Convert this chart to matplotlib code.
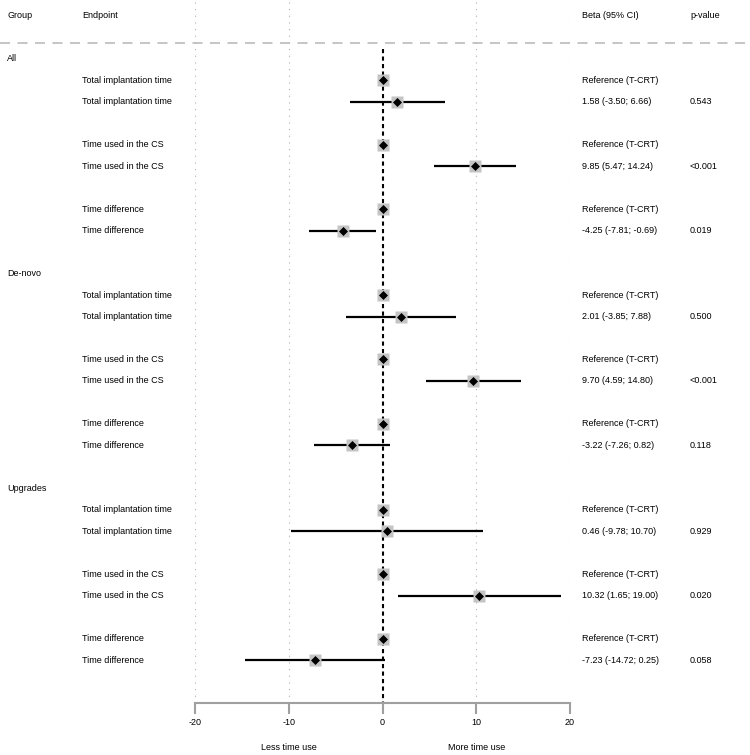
import numpy as np
import matplotlib.pyplot as plt
import matplotlib.transforms as mtransforms
from matplotlib.lines import Line2D

plt.rcParams['font.family'] = ['Liberation Sans', 'DejaVu Sans']

groups = ['All', 'De-novo', 'Upgrades']
endpoints = ['Total implantation time', 'Time used in the CS', 'Time difference']
beta = [[1.58, 9.85, -4.25], [2.01, 9.70, -3.22], [0.46, 10.32, -7.23]]
lower = [[-3.50, 5.47, -7.81], [-3.85, 4.59, -7.26], [-9.78, 1.65, -14.72]]
upper = [[6.66, 14.24, -0.69], [7.88, 14.80, 0.82], [10.70, 19.00, 0.25]]
pvals = [['0.543', '<0.001', '0.019'], ['0.500', '<0.001', '0.118'], ['0.929', '0.020', '0.058']]
ref_label = 'Reference (T-CRT)'
x_ticks = [-20, -10, 0, 10, 20]

W, H = 750, 755
fig = plt.figure(figsize=(W / 100, H / 100), dpi=100)
ax_bottom = 703
ax = fig.add_axes([195 / W, 1 - ax_bottom / H, 375 / W, ax_bottom / H])
ax.set_xlim(-20, 20)
ax.set_ylim(30, -2.744)

fs = 6.5
col_x = {'group': 7 / W, 'end': 82 / W, 'beta': 582 / W, 'p': 690 / W}
tr_row = mtransforms.blended_transform_factory(fig.transFigure, ax.transData)

def put(col, y, s):
    ax.text(col_x[col], y, s, transform=tr_row, fontsize=fs, va='center', ha='left', clip_on=False)

# header
put('group', -2, 'Group')
put('end', -2, 'Endpoint')
put('beta', -2, 'Beta (95% CI)')
put('p', -2, 'p-value')
ax.add_line(Line2D([0, 1], [-0.75, -0.75], transform=tr_row, color='#bbbbbb', lw=1.2,
                   dashes=(6, 4.5), clip_on=False))

# grid + zero line
for t in [-20, -10, 10, 20]:
    ax.axvline(t, color='#b0b0b0', lw=0.8, dashes=(1, 5), zorder=0)
ax.plot([0, 0], [-0.45, 30], color='black', lw=1.5, dashes=(2, 1.6), zorder=1)

for g, grp in enumerate(groups):
    start = g * 10
    put('group', start, grp)
    for k, ep in enumerate(endpoints):
        y_ref = start + 1 + 3 * k
        y_est = y_ref + 1
        put('end', y_ref, ep)
        put('end', y_est, ep)
        put('beta', y_ref, ref_label)
        b, lo, hi = beta[g][k], lower[g][k], upper[g][k]
        put('beta', y_est, f'{b:.2f} ({lo:.2f}; {hi:.2f})')
        put('p', y_est, pvals[g][k])
        ax.plot([lo, hi], [y_est, y_est], color='black', lw=1.6, zorder=2, solid_capstyle='butt')
        for x, y in [(0, y_ref), (b, y_est)]:
            ax.plot(x, y, 's', ms=8, color='#c4c4c4', mec='none', zorder=3)
            ax.plot(x, y, 'D', ms=4, color='black', mec='black', mew=0.5, zorder=4)

for s in ['top', 'left', 'right']:
    ax.spines[s].set_visible(False)
ax.spines['bottom'].set_color('#a0a0a0')
ax.spines['bottom'].set_linewidth(1.5)
ax.set_yticks([])
ax.set_xticks(x_ticks)
ax.set_xticklabels([str(t) for t in x_ticks])
ax.tick_params(axis='x', direction='out', length=8, width=1.5, color='#a0a0a0',
               labelsize=fs, pad=3)

tr_lab = mtransforms.blended_transform_factory(ax.transData, fig.transFigure)
ax.text(-10, 1 - 748 / H, 'Less time use', transform=tr_lab, fontsize=fs, ha='center', va='center')
ax.text(10, 1 - 748 / H, 'More time use', transform=tr_lab, fontsize=fs, ha='center', va='center')

fig.savefig('out.png', dpi=100)
